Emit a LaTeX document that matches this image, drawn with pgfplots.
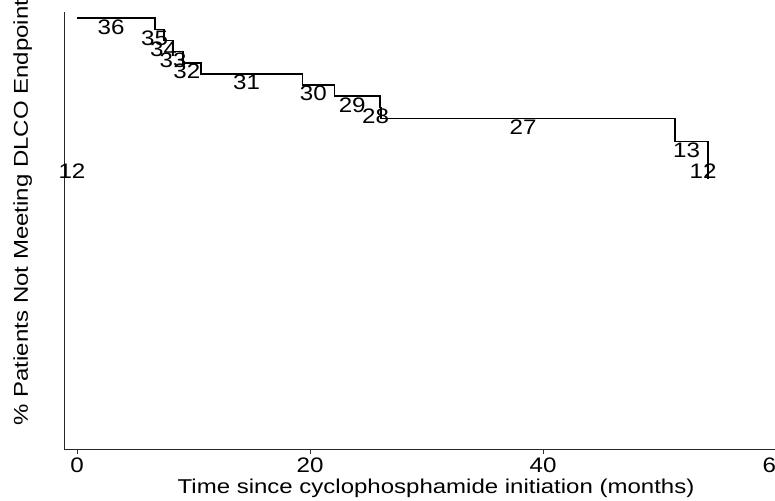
\documentclass[border=0pt]{standalone}
\usepackage{pgfplots}
\pgfplotsset{compat=1.18}
\usepackage{fontspec}
\setmainfont{Liberation Sans}[FakeStretch=1.2]
\newfontfamily\numfont{Liberation Sans}[FakeStretch=1.15]
\begin{document}
\begin{tikzpicture}
\useasboundingbox (0,0) rectangle (775pt,500pt);
\begin{axis}[
  at={(64pt,51pt)}, anchor=south west,
  scale only axis, width=716pt, height=437pt,
  xmin=-1.116, xmax=60.34, ymin=-0.0749, ymax=1.0157,
  axis lines=left,
  axis line style={-, draw=black!85, line width=0.9pt},
  ytick=\empty,
  xtick={0,20,40,60},
  tick align=outside, major tick length=5pt,
  tick style={draw=black!80, line width=0.9pt},
  /pgf/number format/assume math mode=true,
  font=\fontsize{20}{24}\selectfont,
  xticklabel style={inner sep=1pt, yshift=-3pt, font=\numfont\fontsize{21}{24}\selectfont},
  xlabel={Time since cyclophosphamide initiation (months)},
  ylabel={\% Patients Not Meeting DLCO Endpoint},
  every axis x label/.style={at={([yshift=-44pt]axis description cs:0.5196,0)}, anchor=base},
  every axis y label/.style={at={([xshift=-36pt]axis description cs:0,0.541)}, anchor=base, rotate=90},
  clip=false,
]
\addplot[const plot, black, line width=1.6pt, mark=none] coordinates {
(0,1) (6.70,0.9722) (7.47,0.9444) (8.24,0.9167) (9.10,0.8889) (10.62,0.8611)
(19.34,0.8333) (22.09,0.8056) (26.01,0.7778) (26.09,0.75) (51.33,0.6923)
(54.16,0.64) (54.16,0.60)
};
\addplot[draw=none, mark=none, nodes near coords, point meta=explicit symbolic,
  nodes near coords style={anchor=north, xshift=-5pt, inner sep=1pt, font=\numfont\fontsize{21}{24}\selectfont}]
  table[meta=lab] {
x y lab
3.35 1 36
7.085 0.9722 35
7.855 0.9444 34
8.67 0.9167 33
9.86 0.8889 32
14.98 0.8611 31
20.715 0.8333 30
24.05 0.8056 29
26.05 0.7778 28
38.71 0.75 27
52.745 0.6923 13
54.16 0.64 12
0 0.64 12
};
\end{axis}
\end{tikzpicture}
\end{document}
